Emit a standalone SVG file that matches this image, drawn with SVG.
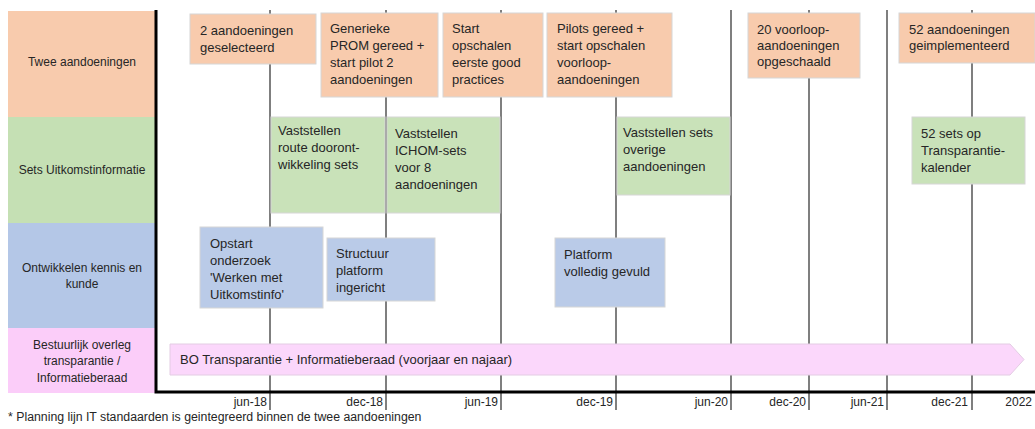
<svg xmlns="http://www.w3.org/2000/svg" width="1035" height="429" viewBox="0 0 1035 429">
  <style>
    text { font-family: "Liberation Sans", Arial, sans-serif; fill: #262626; }
    .lbl { font-size: 12px; text-anchor: middle; }
    .box { font-size: 13px; }
    .tick { font-size: 12px; text-anchor: end; }
    .note { font-size: 12.3px; }
    .peach { fill: #F8CBAD; stroke: #d6d6d6; stroke-width: 1; }
    .green { fill: #C9E2B9; stroke: #d6d6d6; stroke-width: 1; }
    .blue { fill: #BACBE8; stroke: #d6d6d6; stroke-width: 1; }
    .grid line { stroke: #7f7f7f; stroke-width: 2; }
    .axis { stroke: #000; stroke-width: 3; fill: none; }
  </style>
  <rect width="1035" height="429" fill="#fff"/>

  <!-- swimlane headers -->
  <g id="lanes">
    <rect x="8" y="11" width="147" height="106" fill="#F8CBAD"/>
    <rect x="8" y="117" width="147" height="106" fill="#C5E0B4"/>
    <rect x="8" y="223" width="147" height="105" fill="#B4C7E7"/>
    <rect x="8" y="328" width="147" height="65" fill="#FBCDF9"/>
    <text class="lbl" x="82" y="66">Twee aandoeningen</text>
    <text class="lbl" x="82" y="174">Sets Uitkomstinformatie</text>
    <text class="lbl" x="82" y="272">Ontwikkelen kennis en</text>
    <text class="lbl" x="82" y="288">kunde</text>
    <text class="lbl" x="82" y="349">Bestuurlijk overleg</text>
    <text class="lbl" x="82" y="365">transparantie /</text>
    <text class="lbl" x="82" y="382">Informatieberaad</text>
  </g>

  <!-- time gridlines -->
  <g id="connectors" class="grid">
    <line x1="270" y1="10" x2="270" y2="410"/>
    <line x1="386" y1="10" x2="386" y2="410"/>
    <line x1="501" y1="10" x2="501" y2="410"/>
    <line x1="616" y1="10" x2="616" y2="410"/>
    <line x1="731" y1="10" x2="731" y2="410"/>
    <line x1="809" y1="10" x2="809" y2="410"/>
    <line x1="887" y1="10" x2="887" y2="410"/>
    <line x1="972" y1="10" x2="972" y2="410"/>
  </g>

  <!-- axes -->
  <g id="axes">
    <polyline class="axis" points="156,10 156,392 1035,392"/>
    <text class="tick" x="267" y="406">jun-18</text>
    <text class="tick" x="383" y="406">dec-18</text>
    <text class="tick" x="498" y="406">jun-19</text>
    <text class="tick" x="613" y="406">dec-19</text>
    <text class="tick" x="728" y="406">jun-20</text>
    <text class="tick" x="806" y="406">dec-20</text>
    <text class="tick" x="884" y="406">jun-21</text>
    <text class="tick" x="968" y="406">dec-21</text>
    <text class="tick" x="1032" y="406">2022</text>
  </g>

  <!-- Twee aandoeningen -->
  <g id="n-geselecteerd">
    <rect class="peach" x="190" y="14" width="126" height="50"/>
    <text class="box" x="200" y="35">2 aandoeningen</text>
    <text class="box" x="200" y="51.5">geselecteerd</text>
  </g>
  <g id="n-prom">
    <rect class="peach" x="321" y="13" width="117" height="84"/>
    <text class="box" x="330" y="33">Generieke</text>
    <text class="box" x="330" y="50">PROM gereed +</text>
    <text class="box" x="330" y="67">start pilot 2</text>
    <text class="box" x="330" y="84">aandoeningen</text>
  </g>
  <g id="n-opschalen">
    <rect class="peach" x="443" y="13" width="100" height="84"/>
    <text class="box" x="452" y="33">Start</text>
    <text class="box" x="452" y="50">opschalen</text>
    <text class="box" x="452" y="67">eerste good</text>
    <text class="box" x="452" y="84">practices</text>
  </g>
  <g id="n-pilots">
    <rect class="peach" x="547" y="13" width="125" height="84"/>
    <text class="box" x="557" y="33">Pilots gereed +</text>
    <text class="box" x="557" y="50">start opschalen</text>
    <text class="box" x="557" y="67">voorloop-</text>
    <text class="box" x="557" y="84">aandoeningen</text>
  </g>
  <g id="n-voorloop">
    <rect class="peach" x="748" y="13" width="112" height="65"/>
    <text class="box" x="757" y="34">20 voorloop-</text>
    <text class="box" x="757" y="50">aandoeningen</text>
    <text class="box" x="757" y="66">opgeschaald</text>
  </g>
  <g id="n-geimplementeerd">
    <rect class="peach" x="899" y="13" width="136" height="50"/>
    <text class="box" x="909" y="34">52 aandoeningen</text>
    <text class="box" x="909" y="50">geimplementeerd</text>
  </g>

  <!-- Sets Uitkomstinformatie -->
  <g id="n-route">
    <rect class="green" x="271" y="117" width="114" height="96"/>
    <text class="box" x="278" y="135">Vaststellen</text>
    <text class="box" x="278" y="152">route dooront-</text>
    <text class="box" x="278" y="169">wikkeling sets</text>
  </g>
  <g id="n-ichom">
    <rect class="green" x="387" y="117" width="113" height="96"/>
    <text class="box" x="395" y="138">Vaststellen</text>
    <text class="box" x="395" y="155">ICHOM-sets</text>
    <text class="box" x="395" y="172">voor 8</text>
    <text class="box" x="395" y="189">aandoeningen</text>
  </g>
  <g id="n-overige">
    <rect class="green" x="617" y="117" width="113" height="78"/>
    <text class="box" x="623" y="137">Vaststellen sets</text>
    <text class="box" x="623" y="154">overige</text>
    <text class="box" x="623" y="171">aandoeningen</text>
  </g>
  <g id="n-kalender">
    <rect class="green" x="912" y="117" width="113" height="67"/>
    <text class="box" x="921" y="138">52 sets op</text>
    <text class="box" x="921" y="155">Transparantie-</text>
    <text class="box" x="921" y="172">kalender</text>
  </g>

  <!-- Ontwikkelen kennis en kunde -->
  <g id="n-onderzoek">
    <rect class="blue" x="200" y="227" width="123" height="81"/>
    <text class="box" x="210" y="248">Opstart</text>
    <text class="box" x="210" y="265">onderzoek</text>
    <text class="box" x="210" y="282">'Werken met</text>
    <text class="box" x="210" y="299">Uitkomstinfo'</text>
  </g>
  <g id="n-structuur">
    <rect class="blue" x="327" y="238" width="108" height="63"/>
    <text class="box" x="336" y="258">Structuur</text>
    <text class="box" x="336" y="275">platform</text>
    <text class="box" x="336" y="292">ingericht</text>
  </g>
  <g id="n-platform">
    <rect class="blue" x="555" y="238" width="110" height="69"/>
    <text class="box" x="564" y="259">Platform</text>
    <text class="box" x="564" y="276">volledig gevuld</text>
  </g>

  <!-- Bestuurlijk overleg: long-running bar -->
  <g id="n-bo">
    <polygon points="170,344 1010,344 1024,359.5 1010,375 170,375" fill="#FBD7FB" stroke="#e3cce3" stroke-width="1"/>
    <text class="box" x="180" y="364">BO Transparantie + Informatieberaad (voorjaar en najaar)</text>
  </g>

  <text class="note" x="8" y="421">* Planning lijn IT standaarden is geintegreerd binnen de twee aandoeningen</text>
</svg>
